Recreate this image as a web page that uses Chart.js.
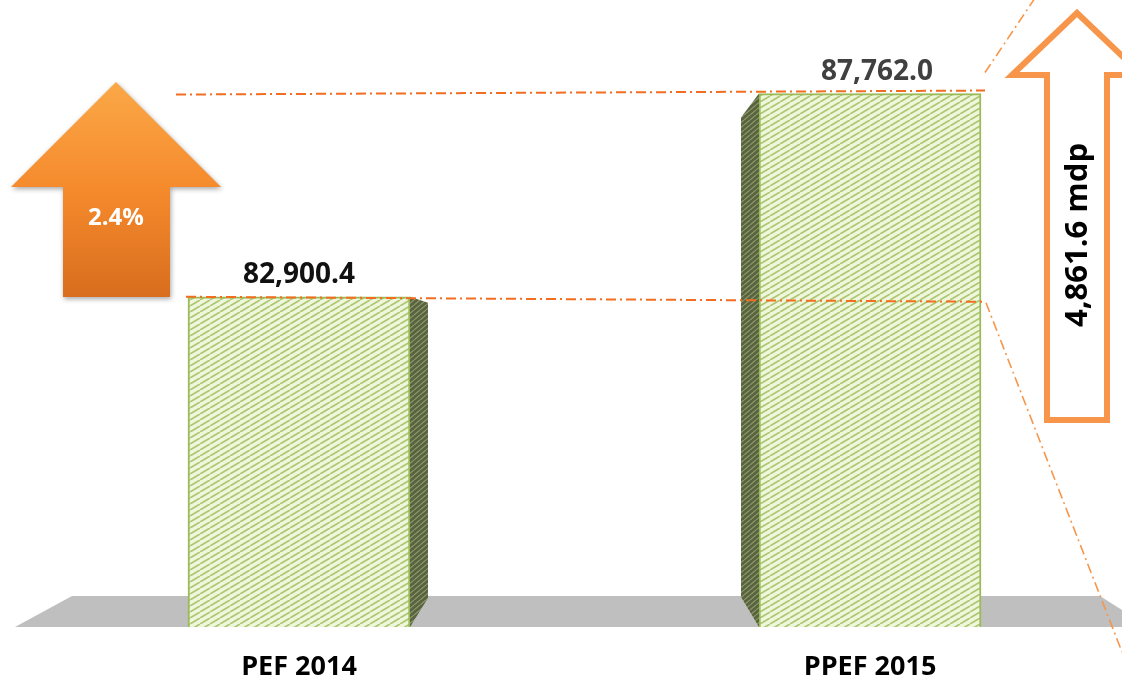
<!DOCTYPE html>
<html>
<head>
<meta charset="utf-8">
<script src="https://cdn.jsdelivr.net/npm/chart.js@4.4.1/dist/chart.umd.min.js"></script>
<style>
  html, body { margin: 0; padding: 0; background: #fff; }
  #wrap { width: 1122px; height: 678px; position: relative; }
</style>
</head>
<body>
<div id="wrap"><canvas id="chart"></canvas></div>
<script>
// datos
const categories = ["PEF 2014", "PPEF 2015"];
const values = [82900.4, 87762.0];
const growthLabel = "2.4%";
const unitLabel = "mdp";
const yMin = 75000;
const yMax = 90000;

const FONT = "'Open Sans', 'DejaVu Sans', sans-serif";
const ORANGE = "#f26d1f";
const ORANGE_LIGHT = "#f7964a";

function fmt(v) {
  return v.toLocaleString("en-US", { minimumFractionDigits: 1, maximumFractionDigits: 1 });
}

// -- patrones de rayas --
function makeHatch(bg, line, w, h, lw) {
  const c = document.createElement("canvas");
  c.width = w;
  c.height = h;
  const g = c.getContext("2d");
  g.fillStyle = bg;
  g.fillRect(0, 0, w, h);
  g.strokeStyle = line;
  g.lineWidth = lw;
  for (const dx of [-w, 0, w]) {
    g.beginPath();
    g.moveTo(dx, h);
    g.lineTo(dx + w, 0);
    g.stroke();
  }
  return g.createPattern(c, "repeat");
}

const frontHatch = makeHatch("#eef6dc", "#adc772", 10, 6, 1.7);
const sideHatch = makeHatch("#59633f", "#8d9a6c", 6, 5, 1.2);

// -- plugins --
const floorPlugin = {
  id: "floor",
  beforeDatasetsDraw(chart) {
    const { ctx } = chart;
    const yb = chart.scales.y.getPixelForValue(yMin);
    ctx.save();
    ctx.fillStyle = "#bfbfbf";
    ctx.beginPath();
    ctx.moveTo(15, yb);
    ctx.lineTo(72, yb - 31);
    ctx.lineTo(1100, yb - 31);
    ctx.lineTo(1122, yb - 17);
    ctx.lineTo(1122, yb);
    ctx.closePath();
    ctx.fill();
    ctx.restore();
  },
};

const boxPlugin = {
  id: "box",
  afterDatasetsDraw(chart) {
    const { ctx } = chart;
    const bars = chart.getDatasetMeta(0).data;
    const yb = chart.scales.y.getPixelForValue(yMin);
    ctx.save();
    ctx.fillStyle = sideHatch;

    // cara lateral derecha (barra 1)
    let b = bars[0];
    let xe = b.x + b.width / 2;
    ctx.beginPath();
    ctx.moveTo(xe, b.y);
    ctx.lineTo(xe + 18, b.y + 6);
    ctx.lineTo(xe + 18, yb - 29);
    ctx.lineTo(xe, yb);
    ctx.closePath();
    ctx.fill();

    // cara lateral izquierda (barra 2)
    b = bars[1];
    xe = b.x - b.width / 2;
    ctx.beginPath();
    ctx.moveTo(xe, b.y);
    ctx.lineTo(xe - 18, b.y + 24);
    ctx.lineTo(xe - 18, yb - 30);
    ctx.lineTo(xe, yb);
    ctx.closePath();
    ctx.fill();

    // etiquetas de valor
    ctx.font = "bold 28px " + FONT;
    ctx.textAlign = "center";
    ctx.textBaseline = "alphabetic";
    const colors = ["#111111", "#404040"];
    const shift = [0, 7];
    bars.forEach((bar, i) => {
      ctx.fillStyle = colors[i];
      ctx.fillText(fmt(values[i]), bar.x + shift[i], bar.y - 14);
    });
    ctx.restore();
  },
};

const notesPlugin = {
  id: "notes",
  afterDraw(chart) {
    const { ctx } = chart;
    const y = chart.scales.y;
    const y1 = y.getPixelForValue(values[0]);
    const y2 = y.getPixelForValue(values[1]);

    ctx.save();
    // lineas punto-raya
    ctx.setLineDash([10, 4, 2, 4]);
    ctx.strokeStyle = ORANGE;
    ctx.lineWidth = 2;
    ctx.beginPath();
    ctx.moveTo(176, y2 + 1);
    ctx.lineTo(985, y2 - 3);
    ctx.moveTo(186, y1);
    ctx.lineTo(985, y1 + 5);
    ctx.stroke();

    ctx.strokeStyle = ORANGE_LIGHT;
    ctx.lineWidth = 1.6;
    ctx.beginPath();
    ctx.moveTo(985, y2 - 21);
    ctx.lineTo(1035, -2);
    ctx.moveTo(986, y1 + 6);
    ctx.lineTo(1122, 652);
    ctx.stroke();
    ctx.setLineDash([]);

    // flecha naranja rellena
    const grad = ctx.createLinearGradient(0, 82, 0, 297);
    grad.addColorStop(0, "#fba848");
    grad.addColorStop(0.5, "#f58a2c");
    grad.addColorStop(1, "#d86e1e");
    ctx.save();
    ctx.shadowColor = "rgba(0,0,0,0.35)";
    ctx.shadowBlur = 5;
    ctx.shadowOffsetX = 1;
    ctx.shadowOffsetY = 2;
    ctx.fillStyle = grad;
    ctx.beginPath();
    ctx.moveTo(116, 82);
    ctx.lineTo(221, 187);
    ctx.lineTo(170, 187);
    ctx.lineTo(170, 297);
    ctx.lineTo(63, 297);
    ctx.lineTo(63, 187);
    ctx.lineTo(11, 187);
    ctx.closePath();
    ctx.fill();
    ctx.restore();

    ctx.fillStyle = "#ffffff";
    ctx.font = "bold 24px " + FONT;
    ctx.textAlign = "center";
    ctx.textBaseline = "middle";
    ctx.fillText(growthLabel, 116, 218);

    // flecha naranja de contorno
    ctx.strokeStyle = ORANGE_LIGHT;
    ctx.lineWidth = 6;
    ctx.lineJoin = "miter";
    ctx.beginPath();
    ctx.moveTo(1077, 13);
    ctx.lineTo(1142, 75);
    ctx.lineTo(1107, 75);
    ctx.lineTo(1107, 420);
    ctx.lineTo(1047, 420);
    ctx.lineTo(1047, 75);
    ctx.lineTo(1012, 75);
    ctx.closePath();
    ctx.stroke();

    ctx.translate(1078, 235);
    ctx.rotate(-Math.PI / 2);
    ctx.fillStyle = "#000000";
    ctx.font = "bold 31px " + FONT;
    ctx.fillText(fmt(values[1] - values[0]) + " " + unitLabel, 0, 0);
    ctx.restore();
  },
};

new Chart(document.getElementById("chart"), {
  type: "bar",
  data: {
    datasets: [
      {
        data: values.map((v, i) => ({ x: i, y: v })),
        backgroundColor: frontHatch,
        borderColor: "#9bbb59",
        borderWidth: 2,
        barThickness: 222,
      },
    ],
  },
  options: {
    responsive: true,
    maintainAspectRatio: false,
    animation: false,
    layout: { padding: 0 },
    plugins: {
      legend: { display: false },
      tooltip: { enabled: false },
    },
    scales: {
      x: {
        type: "linear",
        min: -0.5236,
        max: 1.4413,
        offset: false,
        grid: { display: false, drawTicks: false },
        border: { display: false },
        afterBuildTicks(scale) {
          scale.ticks = categories.map((c, i) => ({ value: i }));
        },
        afterFit(scale) {
          scale.height = 51;
        },
        ticks: {
          padding: 24,
          color: "#000000",
          font: { family: FONT, size: 27, weight: "bold" },
          callback: (v) => categories[v] ?? "",
        },
      },
      y: {
        display: false,
        min: yMin,
        max: yMax,
      },
    },
  },
  plugins: [floorPlugin, boxPlugin, notesPlugin],
});
</script>
</body>
</html>
